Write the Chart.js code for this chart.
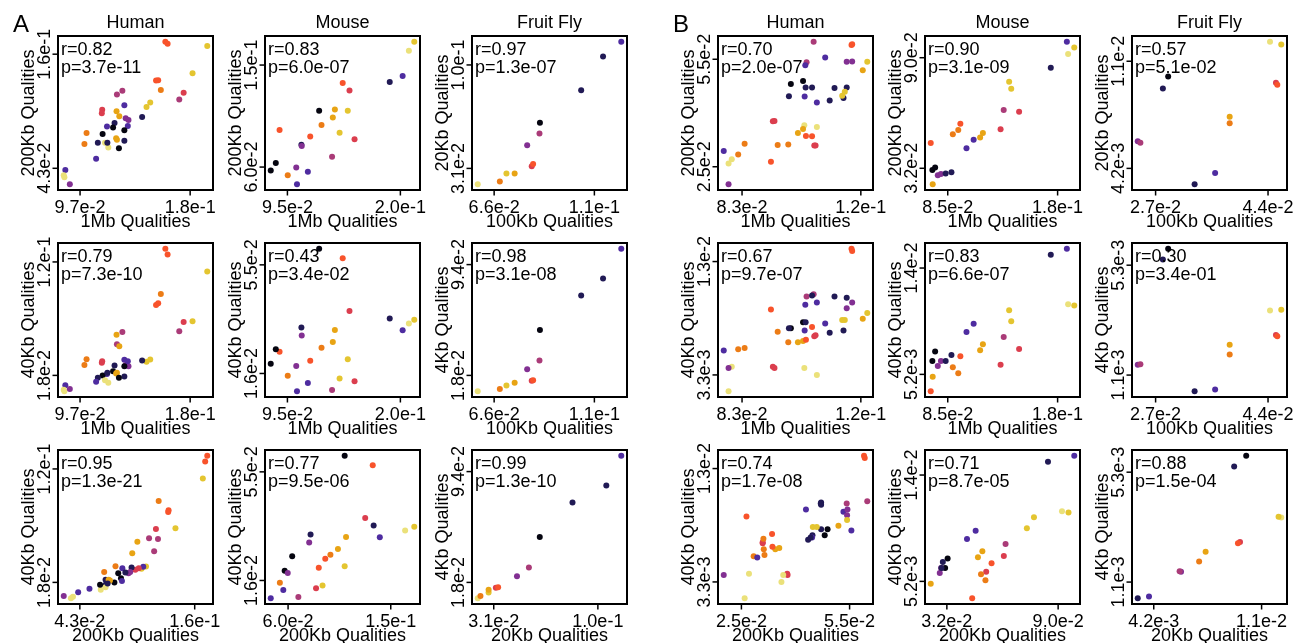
<!DOCTYPE html>
<html>
<head>
<meta charset="utf-8">
<script src="https://cdn.jsdelivr.net/npm/chart.js@4.4.1/dist/chart.umd.min.js"></script>
<style>
  html, body { margin: 0; padding: 0; background: #fff; }
  #page { position: relative; width: 1294px; height: 643px; overflow: hidden; background: #fff; }
  #page canvas { position: absolute; }
</style>
</head>
<body>
<div id="page"></div>
<script>
// colour index -> inferno-like palette (black ... light yellow)
const palette = ["#050510", "#211a55", "#4e2ca0", "#823092", "#aa3b78", "#db3e4e",
  "#f8532b", "#ec7c16", "#e8a414", "#e4c530", "#ebe17a"];

// ---- A: Human (1Mb / 200Kb / 40Kb qualities) ----
const humA_1mb = [0.1929,0.1613,0.1630,0.1818,0.1543,0.1559,0.1579,0.1751,0.1718,0.1499,
  0.1471,0.1289,0.1248,0.1304,0.1137,0.1134,0.1245,0.1266,0.1438,0.1314,
  0.1335,0.1330,0.1230,0.1219,0.1173,0.1304,0.1140,0.1019,0.1003,0.1104,
  0.1158,0.1183,0.1176,0.1242,0.1248,0.1304,0.1263,0.1091,0.0859,0.0847,
  0.0852,0.0893];
const humA_200kb = [0.1683,0.1728,0.1707,0.1404,0.1330,0.1334,0.1233,0.1205,0.1135,0.1104,
  0.1058,0.1226,0.1187,0.1076,0.1030,0.0995,0.1016,0.0964,0.0957,0.0943,
  0.0926,0.0863,0.0894,0.0849,0.0859,0.0821,0.0782,0.0793,0.0678,0.0692,
  0.0692,0.0643,0.0692,0.0737,0.0723,0.0713,0.0636,0.0528,0.0413,0.0360,
  0.0339,0.0266];
const humA_40kb = [0.1115,0.1319,0.1267,0.0667,0.0813,0.0829,0.0911,0.0661,0.0576,0.0323,
  0.0302,0.0570,0.0460,0.0320,0.0308,0.0293,0.0545,0.0442,0.0314,0.0274,
  0.0262,0.0308,0.0268,0.0217,0.0192,0.0262,0.0180,0.0326,0.0274,0.0159,
  0.0137,0.0113,0.0204,0.0198,0.0204,0.0171,0.0159,0.0122,0.0092,0.0052,
  0.0037,0.0058];
const humA_col = [9,6,6,9,6,6,7,5,4,9, 9,4,4,2,5,5,8,8,1,3, 3,2,1,0,2,0,0,7,7,1,
  10,10,1,8,8,1,0,2,2,10, 10,3];
const humA_ticks = [["9.7e-2", "1.8e-1"], ["4.3e-2", "1.6e-1"], ["1.8e-2", "1.2e-1"]];
const humA_r = ["0.82", "0.79", "0.95"];
const humA_p = ["3.7e-11", "7.3e-10", "1.3e-21"];

// ---- A: Mouse ----
const musA_1mb = [0.2129,0.2079,0.2021,0.1901,0.1464,0.1527,0.1391,0.1511,0.1245,0.1372,
  0.1267,0.0877,0.1435,0.1162,0.1574,0.1080,0.1083,0.1365,0.0842,0.0795,
  0.1032,0.1140,0.0953,0.1039];
const musA_200kb = [0.1706,0.1626,0.1404,0.1350,0.1342,0.1276,0.1108,0.1096,0.1096,0.1037,
  0.0971,0.0926,0.0902,0.0869,0.0845,0.0797,0.0785,0.0690,0.0636,0.0570,
  0.0597,0.0558,0.0528,0.0448];
const musA_40kb = [0.0353,0.0339,0.0315,0.0357,0.0574,0.0384,0.0316,0.0211,0.0608,0.0273,
  0.0252,0.0238,0.0142,0.0206,0.0132,0.0325,0.0296,0.0101,0.0247,0.0195,
  0.0187,0.0126,0.0152,0.0096];
const musA_col = [9,10,2,1,6,5,8,9,0,8, 7,6,9,6,5,1,3,4,0,0, 3,2,7,2];
const musA_ticks = [["9.5e-2", "2.0e-1"], ["6.0e-2", "1.5e-1"], ["1.6e-2", "5.5e-2"]];
const musA_r = ["0.83", "0.43", "0.77"];
const musA_p = ["6.0e-07", "3.4e-02", "9.5e-06"];

// ---- A: Fruit Fly (100Kb / 20Kb / 4Kb) ----
const flyA_100kb = [0.0588,0.0685,0.0714,0.0750,0.0825,0.0831,0.0805,0.0859,0.0861,0.1042,0.1138,0.1218];
const flyA_20kb = [0.0204,0.0222,0.0276,0.0276,0.0324,0.0339,0.0464,0.0543,0.0615,0.0832,0.1056,0.1155];
const flyA_4kb = [0.0071,0.0087,0.0110,0.0129,0.0143,0.0147,0.0222,0.0282,0.0491,0.0728,0.0845,0.1049];
const flyA_col = [10,7,9,8,5,6,3,4,0,1,1,2];
const flyA_ticks = [["6.6e-2", "1.1e-1"], ["3.1e-2", "1.0e-1"], ["1.8e-2", "9.4e-2"]];
const flyA_r = ["0.97", "0.98", "0.99"];
const flyA_p = ["1.3e-07", "3.1e-08", "1.3e-10"];

// ---- B: Human ----
const humB_1mb = [0.1053,0.1171,0.1173,0.1089,0.1031,0.1027,0.1156,0.1173,0.1220,0.1206,
  0.0982,0.1020,0.1028,0.1048,0.1118,0.1156,0.0976,0.1025,0.1063,0.1103,
  0.1146,0.1142,0.1150,0.0926,0.0931,0.1024,0.1020,0.1004,0.1063,0.1029,
  0.1048,0.1055,0.1059,0.0838,0.0941,0.0974,0.0818,0.0773,0.0798,0.0788,
  0.0920,0.0788];
const humB_200kb = [0.0599,0.0590,0.0592,0.0555,0.0542,0.0533,0.0543,0.0544,0.0543,0.0519,
  0.0481,0.0489,0.0471,0.0471,0.0470,0.0471,0.0447,0.0446,0.0429,0.0435,
  0.0442,0.0448,0.0459,0.0377,0.0378,0.0366,0.0355,0.0344,0.0361,0.0336,
  0.0335,0.0309,0.0309,0.0314,0.0311,0.0312,0.0284,0.0294,0.0271,0.0259,
  0.0264,0.0201];
const humB_40kb = [0.0102,0.0141,0.0139,0.0077,0.0100,0.0093,0.0090,0.0095,0.0086,0.0081,
  0.0073,0.0078,0.0078,0.0101,0.0100,0.0099,0.0073,0.0071,0.0095,0.0069,
  0.0071,0.0080,0.0080,0.0040,0.0039,0.0039,0.0062,0.0061,0.0033,0.0063,
  0.0074,0.0066,0.0067,0.0056,0.0070,0.0061,0.0055,0.0054,0.0040,0.0019,
  0.0089,0.0039];
const humB_col = [4,6,6,2,4,2,3,3,9,8, 0,0,1,1,1,1,1,2,2,1, 1,9,9,5,5,10,8,8,10,6,
  6,5,5,7,7,7,7,2,10,10, 6,3];
const humB_ticks = [["8.3e-2", "1.2e-1"], ["2.5e-2", "5.5e-2"], ["3.3e-3", "1.3e-2"]];
const humB_r = ["0.70", "0.67", "0.74"];
const humB_p = ["2.0e-07", "9.7e-07", "1.7e-08"];

// ---- B: Mouse ----
const musB_1mb = [0.1880,0.1944,0.1891,0.1741,0.1381,0.1399,0.1334,0.1467,0.1307,0.0959,
  0.0941,0.0894,0.1154,0.1130,0.1074,0.1012,0.0703,0.0717,0.0741,0.0764,
  0.0791,0.0832,0.0882,0.0720];
const musB_200kb = [0.0984,0.0954,0.0920,0.0847,0.0774,0.0737,0.0626,0.0617,0.0525,0.0553,
  0.0521,0.0498,0.0505,0.0482,0.0470,0.0425,0.0452,0.0311,0.0324,0.0283,
  0.0290,0.0292,0.0299,0.0236];
const musB_40kb = [0.0156,0.0109,0.0110,0.0151,0.0105,0.0096,0.0083,0.0073,0.0060,0.0067,
  0.0053,0.0058,0.0077,0.0072,0.0094,0.0087,0.0038,0.0063,0.0071,0.0059,
  0.0063,0.0063,0.0068,0.0050];
const musB_col = [2,9,10,1,9,9,4,5,5,6, 7,7,8,8,2,2,6,0,0,3, 3,1,1,8];
const musB_ticks = [["8.5e-2", "1.8e-1"], ["3.2e-2", "9.0e-2"], ["5.2e-3", "1.4e-2"]];
const musB_r = ["0.90", "0.83", "0.71"];
const musB_p = ["3.1e-09", "6.6e-07", "8.7e-05"];

// ---- B: Fruit Fly ----
const flyB_100kb = [0.0443,0.0460,0.0452,0.0454,0.0289,0.0281,0.0382,0.0382,0.0243,0.0247,0.0360,0.0329];
const flyB_20kb = [0.01224,0.01207,0.00964,0.00951,0.01003,0.00927,0.00747,0.00706,0.00592,0.00583,0.00390,0.00319];
const flyB_4kb = [0.00357,0.00360,0.00263,0.00258,0.00593,0.00552,0.00226,0.00189,0.00149,0.00151,0.00055,0.00048];
const flyB_col = [10,9,5,6,0,1,8,7,3,4,2,1];
const flyB_ticks = [["2.7e-2", "4.4e-2"], ["4.2e-3", "1.1e-2"], ["1.1e-3", "5.3e-3"]];
const flyB_r = ["0.57", "0.30", "0.88"];
const flyB_p = ["5.1e-02", "3.4e-01", "1.5e-04"];

const mammalRes = ["1Mb", "200Kb", "40Kb"];
const flyRes = ["100Kb", "20Kb", "4Kb"];

// which resolutions go on x / y in each row
const rowPairs = [[0, 1], [0, 2], [1, 2]];

const species = [
  { group: 0, col: 0, title: "Human", letter: "A", res: [humA_1mb, humA_200kb, humA_40kb], names: mammalRes, ticks: humA_ticks, colors: humA_col, r: humA_r, p: humA_p },
  { group: 0, col: 1, title: "Mouse", res: [musA_1mb, musA_200kb, musA_40kb], names: mammalRes, ticks: musA_ticks, colors: musA_col, r: musA_r, p: musA_p },
  { group: 0, col: 2, title: "Fruit Fly", res: [flyA_100kb, flyA_20kb, flyA_4kb], names: flyRes, ticks: flyA_ticks, colors: flyA_col, r: flyA_r, p: flyA_p },
  { group: 1, col: 0, title: "Human", letter: "B", res: [humB_1mb, humB_200kb, humB_40kb], names: mammalRes, ticks: humB_ticks, colors: humB_col, r: humB_r, p: humB_p },
  { group: 1, col: 1, title: "Mouse", res: [musB_1mb, musB_200kb, musB_40kb], names: mammalRes, ticks: musB_ticks, colors: musB_col, r: musB_r, p: musB_p },
  { group: 1, col: 2, title: "Fruit Fly", res: [flyB_100kb, flyB_20kb, flyB_4kb], names: flyRes, ticks: flyB_ticks, colors: flyB_col, r: flyB_r, p: flyB_p },
];

// layout of the plot boxes
const groupLeft = [58, 718];
const colStep = 207;
const rowTop = [36, 243, 450];
const boxW = 155, boxH = 154;
const PAD = { left: 58, top: 40, right: 30, bottom: 44 };
const FONT = '18px "Liberation Sans", Arial, Helvetica, sans-serif';

// R-style range: data range extended by 4% on each side
function axisRange(v) {
  const lo = Math.min(...v), hi = Math.max(...v);
  const d = (hi - lo) * 0.04;
  return [lo - d, hi + d];
}

const framePlugin = {
  id: "frame",
  afterDatasetsDraw(chart, args, o) {
    const c = chart.ctx, a = chart.chartArea;
    const sx = chart.scales.x, sy = chart.scales.y;
    const cx = (a.left + a.right) / 2, cy = (a.top + a.bottom) / 2;
    c.save();
    c.fillStyle = "#000";
    c.strokeStyle = "#000";
    c.font = FONT;
    c.textBaseline = "alphabetic";

    // r / p annotation
    c.textAlign = "left";
    c.fillText("r=" + o.r, a.left + 3, a.top + 18.5);
    c.fillText("p=" + o.p, a.left + 3, a.top + 36.5);

    // box
    c.lineWidth = 2;
    c.strokeRect(a.left, a.top, a.right - a.left, a.bottom - a.top);

    // x axis
    c.lineWidth = 1.5;
    c.textAlign = "center";
    o.xTicks.forEach(t => {
      const px = sx.getPixelForValue(parseFloat(t));
      c.beginPath();
      c.moveTo(px, a.bottom);
      c.lineTo(px, a.bottom + 5.5);
      c.stroke();
      c.fillText(t, px, a.bottom + 23);
    });
    c.fillText(o.xTitle, cx, a.bottom + 36.5);

    // y axis (labels read bottom to top)
    o.yTicks.forEach(t => {
      const py = sy.getPixelForValue(parseFloat(t));
      c.beginPath();
      c.moveTo(a.left, py);
      c.lineTo(a.left - 5.5, py);
      c.stroke();
      c.save();
      c.translate(a.left - 8.3, py);
      c.rotate(-Math.PI / 2);
      c.fillText(t, 0, 0);
      c.restore();
    });
    c.save();
    c.translate(a.left - 24, cy);
    c.rotate(-Math.PI / 2);
    c.fillText(o.yTitle, 0, 0);
    c.restore();

    if (o.title) c.fillText(o.title, cx, a.top - 8.5);
    if (o.letter) {
      c.font = '24px "Liberation Sans", Arial, Helvetica, sans-serif';
      c.textAlign = "left";
      c.fillText(o.letter, a.left - 45, a.top - 4);
    }
    c.restore();
  }
};

const page = document.getElementById("page");

species.forEach(sp => {
  const ranges = sp.res.map(axisRange);
  rowPairs.forEach((pair, row) => {
    const [xi, yi] = pair;
    const xs = sp.res[xi], ys = sp.res[yi];
    const pts = xs.map((x, i) => ({ x: x, y: ys[i] }));
    const cols = sp.colors.map(k => palette[k]);

    const canvas = document.createElement("canvas");
    const w = PAD.left + boxW + PAD.right, h = PAD.top + boxH + PAD.bottom;
    canvas.width = w;
    canvas.height = h;
    canvas.style.width = w + "px";
    canvas.style.height = h + "px";
    canvas.style.left = (groupLeft[sp.group] + sp.col * colStep - PAD.left) + "px";
    canvas.style.top = (rowTop[row] - PAD.top) + "px";
    page.appendChild(canvas);

    new Chart(canvas, {
      type: "scatter",
      data: {
        datasets: [{
          data: pts,
          pointBackgroundColor: cols,
          pointBorderWidth: 0,
          pointRadius: 3,
          pointHoverRadius: 3,
          clip: false,
        }],
      },
      options: {
        responsive: false,
        animation: false,
        events: [],
        layout: { autoPadding: false, padding: PAD },
        scales: {
          x: { type: "linear", display: false, min: ranges[xi][0], max: ranges[xi][1] },
          y: { type: "linear", display: false, min: ranges[yi][0], max: ranges[yi][1] },
        },
        plugins: {
          legend: { display: false },
          tooltip: { enabled: false },
          frame: {
            r: sp.r[row],
            p: sp.p[row],
            xTicks: sp.ticks[xi],
            yTicks: sp.ticks[yi],
            xTitle: sp.names[xi] + " Qualities",
            yTitle: sp.names[yi] + " Qualities",
            title: row === 0 ? sp.title : null,
            letter: row === 0 ? sp.letter : null,
          },
        },
      },
      plugins: [framePlugin],
    });
  });
});
</script>
</body>
</html>
